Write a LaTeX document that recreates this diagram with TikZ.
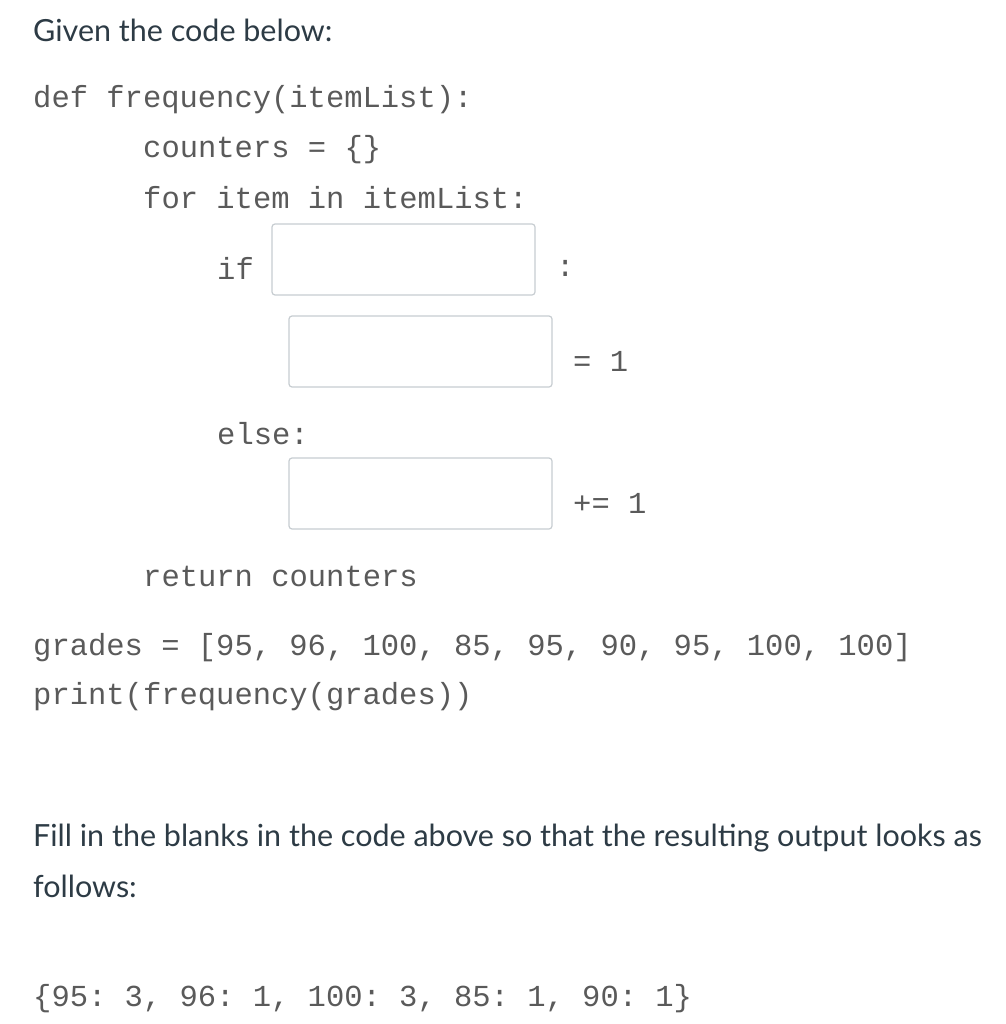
\documentclass[tikz,border=0pt]{standalone}
\usepackage{fontspec}
\setmainfont{Lato}
\setmonofont{Liberation Mono}
\definecolor{txt}{HTML}{2D3B45}
\definecolor{code}{HTML}{5A5A5A}
\definecolor{boxc}{HTML}{C7CDD1}
\begin{document}
\begin{tikzpicture}[x=1pt,y=-1pt,
  sans/.style={anchor=west,inner sep=0pt,text=txt,font=\fontsize{30.5}{34}\selectfont},
  mono/.style={anchor=west,inner sep=0pt,text=code,font=\ttfamily\fontsize{30.5}{34}\selectfont},
  blank/.style={draw=boxc,line width=1.2pt,rounded corners=3pt}]
\useasboundingbox[fill=white] (0,0) rectangle (1005,1024);
\node[sans] (t1) at (33,30) {Given the code below:};
\node[mono] (c1) at (33,100) {def frequency(itemList):};
\node[mono] (c2) at (143,150) {counters = \{\}};
\node[mono] (c3) at (143,198) {for item in itemList:};
\node[mono] (c4) at (217,268) {if};
\draw[blank] (272,224) rectangle (535,295);
\node[mono] (c5) at (556,268) {:};
\draw[blank] (289,316) rectangle (552,387);
\node[mono] (c6) at (573,361) {= 1};
\node[mono] (c7) at (217,434) {else:};
\draw[blank] (289,458) rectangle (552,529);
\node[mono] (c8) at (573,503) {+= 1};
\node[mono] (c9) at (143,576) {return counters};
\node[mono] (c10) at (33,648) {grades = [95, 96, 100, 85, 95, 90, 95, 100, 100]};
\node[mono] (c11) at (33,697) {print(frequency(grades))};
\node[sans] (t2) at (33,838) {Fill in the blanks in the code above so that the resulting output looks as};
\node[sans] (t3) at (33,886) {follows:};
\node[mono] (c12) at (33,999) {\{95: 3, 96: 1, 100: 3, 85: 1, 90: 1\}};
\end{tikzpicture}
\end{document}
